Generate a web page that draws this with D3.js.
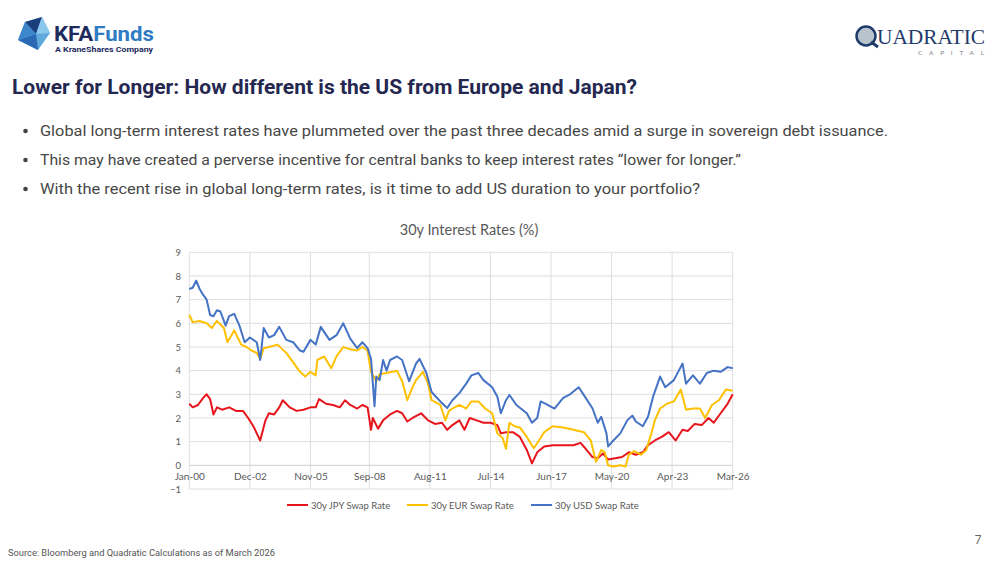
<!DOCTYPE html>
<html>
<head>
<meta charset="utf-8">
<script src="https://cdn.jsdelivr.net/npm/d3@7"></script>
<style>
  body { margin: 0; background: #fff; }
  svg { display: block; }
</style>
</head>
<body>
<div id="slide"></div>
<script>
// 30y swap rates (month, %)
var jpyRate = [
  ["2000-01",2.6],["2000-03",2.45],["2000-06",2.55],["2000-09",2.85],["2000-11",3.0],["2001-01",2.8],
  ["2001-03",2.15],["2001-05",2.45],["2001-08",2.35],["2001-12",2.45],["2002-04",2.3],["2002-08",2.3],
  ["2002-11",2.0],["2003-02",1.65],["2003-05",1.2],["2003-06",1.05],["2003-09",1.9],["2003-11",2.2],
  ["2004-02",2.15],["2004-05",2.45],["2004-07",2.75],["2004-11",2.45],["2005-03",2.3],["2005-07",2.35],
  ["2005-11",2.45],["2006-02",2.45],["2006-04",2.8],["2006-08",2.6],["2006-12",2.55],["2007-04",2.45],
  ["2007-07",2.75],["2007-10",2.55],["2008-02",2.4],["2008-05",2.55],["2008-08",2.45],["2008-10",1.5],
  ["2008-11",2.0],["2009-02",1.55],["2009-05",1.9],["2009-09",2.15],["2010-01",2.3],["2010-04",2.2],
  ["2010-07",1.85],["2010-10",2.0],["2011-03",2.2],["2011-07",1.9],["2011-11",1.75],["2012-03",1.8],
  ["2012-06",1.5],["2012-09",1.7],["2013-01",1.9],["2013-04",1.5],["2013-07",2.0],["2013-11",1.9],
  ["2014-03",1.8],["2014-07",1.8],["2014-11",1.7],["2015-01",1.35],["2015-04",1.4],["2015-08",1.4],
  ["2015-12",1.2],["2016-04",0.65],["2016-07",0.08],["2016-10",0.55],["2017-02",0.8],["2017-07",0.85],
  ["2018-01",0.85],["2018-07",0.85],["2018-11",0.95],["2019-02",0.7],["2019-06",0.35],["2019-09",0.3],
  ["2019-12",0.5],["2020-03",0.25],["2020-07",0.3],["2020-11",0.35],["2021-03",0.55],["2021-07",0.45],
  ["2021-11",0.55],["2022-02",0.85],["2022-06",1.05],["2022-10",1.2],["2023-02",1.4],["2023-06",1.05],
  ["2023-10",1.5],["2024-01",1.45],["2024-05",1.75],["2024-09",1.7],["2025-01",2.0],["2025-04",1.8],
  ["2025-08",2.2],["2025-12",2.6],["2026-03",3.0]
];

var eurRate = [
  ["2000-01",6.35],["2000-03",6.05],["2000-07",6.1],["2000-11",6.0],["2001-02",5.8],["2001-05",6.1],
  ["2001-09",5.8],["2001-11",5.2],["2002-03",5.7],["2002-07",5.1],["2002-10",5.0],["2003-01",4.85],
  ["2003-04",4.75],["2003-06",4.5],["2003-08",4.95],["2003-11",5.0],["2004-04",5.1],["2004-09",4.75],
  ["2005-01",4.35],["2005-03",4.15],["2005-05",3.95],["2005-08",3.75],["2005-11",3.95],["2006-02",3.8],
  ["2006-03",4.45],["2006-07",4.6],["2006-11",4.1],["2007-02",4.6],["2007-06",5.0],["2007-10",4.9],
  ["2008-02",4.85],["2008-05",5.0],["2008-08",4.85],["2008-10",3.95],["2009-01",3.55],["2009-03",3.85],
  ["2009-07",3.9],["2010-01",4.0],["2010-04",3.55],["2010-07",2.75],["2010-10",3.3],["2010-12",3.6],
  ["2011-04",3.95],["2011-07",3.45],["2011-09",2.75],["2012-02",2.55],["2012-05",1.9],["2012-07",2.3],
  ["2012-09",2.4],["2013-01",2.55],["2013-05",2.4],["2013-08",2.7],["2013-12",2.7],["2014-04",2.4],
  ["2014-08",2.2],["2014-11",1.35],["2015-02",1.15],["2015-04",0.7],["2015-06",1.8],["2015-09",1.65],
  ["2015-12",1.6],["2016-04",1.2],["2016-08",0.72],["2016-11",1.05],["2017-02",1.4],["2017-07",1.65],
  ["2018-01",1.6],["2018-07",1.5],["2019-01",1.4],["2019-05",1.05],["2019-08",0.15],["2019-11",0.65],
  ["2020-01",0.55],["2020-03",0.0],["2020-06",-0.05],["2020-10",0.0],["2021-01",-0.05],["2021-03",0.45],
  ["2021-06",0.6],["2021-10",0.45],["2022-01",0.65],["2022-04",1.35],["2022-06",1.9],["2022-09",2.4],
  ["2023-01",2.6],["2023-05",2.7],["2023-09",3.2],["2023-12",2.35],["2024-04",2.4],["2024-08",2.4],
  ["2024-11",2.0],["2025-03",2.55],["2025-07",2.75],["2025-11",3.2],["2026-03",3.15]
];

var usdRate = [
  ["2000-01",7.45],["2000-03",7.5],["2000-05",7.8],["2000-07",7.45],["2000-09",7.2],["2000-11",7.0],
  ["2001-01",6.35],["2001-03",6.3],["2001-05",6.55],["2001-07",6.5],["2001-10",5.9],["2001-12",6.3],
  ["2002-03",6.4],["2002-06",5.9],["2002-09",5.2],["2002-12",5.4],["2003-04",5.2],["2003-06",4.45],
  ["2003-08",5.8],["2003-11",5.4],["2004-02",5.5],["2004-05",5.85],["2004-09",5.3],["2005-01",5.2],
  ["2005-05",4.85],["2005-07",4.8],["2005-11",5.3],["2006-02",5.1],["2006-05",5.85],["2006-10",5.3],
  ["2007-02",5.5],["2007-06",6.0],["2007-10",5.35],["2008-02",4.95],["2008-05",5.2],["2008-08",4.95],
  ["2008-10",4.5],["2008-12",2.5],["2009-01",3.75],["2009-03",3.6],["2009-05",4.45],["2009-07",4.0],
  ["2009-09",4.45],["2010-01",4.6],["2010-04",4.45],["2010-08",3.55],["2010-12",4.3],["2011-02",4.5],
  ["2011-06",3.9],["2011-09",3.1],["2012-02",2.7],["2012-06",2.42],["2012-09",2.75],["2013-01",3.05],
  ["2013-05",3.45],["2013-08",3.8],["2013-12",3.9],["2014-03",3.6],["2014-08",3.3],["2014-11",2.9],
  ["2015-01",2.2],["2015-04",2.75],["2015-06",2.97],["2015-10",2.55],["2016-04",2.2],["2016-07",1.8],
  ["2016-10",2.0],["2016-12",2.7],["2017-03",2.6],["2017-08",2.4],["2018-01",2.85],["2018-05",3.0],
  ["2018-10",3.3],["2019-02",2.85],["2019-06",2.4],["2019-09",1.8],["2019-11",2.05],["2020-02",1.35],
  ["2020-03",0.8],["2020-06",1.05],["2020-10",1.35],["2021-02",1.9],["2021-05",2.1],["2021-07",1.85],
  ["2021-11",1.65],["2022-02",2.05],["2022-05",2.9],["2022-09",3.75],["2022-12",3.3],["2023-05",3.6],
  ["2023-10",4.3],["2023-12",3.45],["2024-04",3.8],["2024-08",3.45],["2024-12",3.9],["2025-04",4.0],
  ["2025-08",3.95],["2025-12",4.15],["2026-03",4.1]
];

var seriesNames = ["30y JPY Swap Rate", "30y EUR Swap Rate", "30y USD Swap Rate"];
var seriesColors = ["#e8141c", "#ffc000", "#4472c4"];
var xTickDates = ["2000-01","2002-12","2005-11","2008-09","2011-08","2014-07","2017-06","2020-05","2023-04","2026-03"];
var yTicks = [-1,0,1,2,3,4,5,6,7,8,9];

var bullets = [
  "Global long-term interest rates have plummeted over the past three decades amid a surge in sovereign debt issuance.",
  "This may have created a perverse incentive for central banks to keep interest rates \u201clower for longer.\u201d",
  "With the recent rise in global long-term rates, is it time to add US duration to your portfolio?"
];
var bulletWidths = [848, 701, 660];

var parseMonth = d3.timeParse("%Y-%m");
var fmtTick = d3.timeFormat("%b-%y");

var W = 1000, H = 563;
var svg = d3.select("#slide").append("svg")
  .attr("width", W).attr("height", H)
  .style("font-family", "Lato, sans-serif");

// ---- header logos ----
var kfa = svg.append("g");
kfa.append("polygon").attr("points", "25,22 42,17 50,33 38,50 18,40").attr("fill", "#5fa8dc");
kfa.append("polygon").attr("points", "25,22 42,17 36,34").attr("fill", "#1c3f7c");
kfa.append("polygon").attr("points", "42,17 50,33 36,34").attr("fill", "#8cc8ee");
kfa.append("polygon").attr("points", "18,40 36,34 38,50").attr("fill", "#2b68b5");
kfa.append("polygon").attr("points", "25,22 18,40 36,34").attr("fill", "#3d86cc");
kfa.append("text").attr("x", 54).attr("y", 41)
  .attr("font-family", "Roboto, sans-serif").attr("font-size", 20).attr("font-weight", 700)
  .attr("textLength", 100).attr("lengthAdjust", "spacingAndGlyphs")
  .html('<tspan fill="#1c2a5e">KFA</tspan><tspan fill="#2f7cc4">Funds</tspan>');
kfa.append("text").attr("x", 55).attr("y", 52)
  .attr("font-family", "Roboto, sans-serif").attr("font-size", 7.5).attr("font-weight", 700)
  .attr("fill", "#1c2a5e").attr("textLength", 98).attr("lengthAdjust", "spacingAndGlyphs")
  .text("A KraneShares Company");

var quad = svg.append("g");
quad.append("circle").attr("cx", 866).attr("cy", 36).attr("r", 9.5)
  .attr("fill", "#b9c3cc").attr("stroke", "#1f3b6b").attr("stroke-width", 2.5);
quad.append("path").attr("d", "M871,42 L878,47").attr("stroke", "#1f3b6b").attr("stroke-width", 3);
quad.append("text").attr("x", 877).attr("y", 44)
  .attr("font-family", "'Liberation Serif', serif").attr("font-size", 21)
  .attr("fill", "#1f3b6b").attr("textLength", 108).attr("lengthAdjust", "spacingAndGlyphs")
  .text("UADRATIC");
quad.append("text").attr("x", 918).attr("y", 55)
  .attr("font-size", 6.5).attr("fill", "#7d8590")
  .attr("textLength", 66).attr("lengthAdjust", "spacing")
  .text("CAPITAL");

// ---- title and bullets ----
svg.append("text").attr("x", 12).attr("y", 94)
  .attr("font-family", "Roboto, sans-serif").attr("font-size", 20).attr("font-weight", 700)
  .attr("fill", "#24274f").attr("textLength", 625).attr("lengthAdjust", "spacingAndGlyphs")
  .text("Lower for Longer: How different is the US from Europe and Japan?");

bullets.forEach(function(t, i) {
  var by = 136 + i * 29;
  svg.append("circle").attr("cx", 25.5).attr("cy", by - 5).attr("r", 2.3).attr("fill", "#444");
  svg.append("text").attr("x", 40).attr("y", by)
    .attr("font-family", "Roboto, sans-serif").attr("font-size", 15)
    .attr("fill", "#474747").attr("textLength", bulletWidths[i]).attr("lengthAdjust", "spacingAndGlyphs")
    .text(t);
});

// ---- chart ----
var x = d3.scaleTime()
  .domain([parseMonth("2000-01"), parseMonth("2026-03")])
  .range([189.3, 732.7]);
var y = d3.scaleLinear().domain([-1, 9]).range([489, 252.3]);

var chart = svg.append("g");

chart.append("text").attr("x", 469).attr("y", 235).attr("text-anchor", "middle")
  .attr("font-size", 14.5).attr("fill", "#595959").text("30y Interest Rates (%)");

// horizontal grid
chart.append("g").selectAll("line").data(yTicks).enter().append("line")
  .attr("x1", x.range()[0]).attr("x2", x.range()[1])
  .attr("y1", function(d) { return y(d); }).attr("y2", function(d) { return y(d); })
  .attr("stroke", function(d) { return d === 0 ? "#cfcfcf" : "#dedede"; }).attr("stroke-width", 1);

// vertical grid
chart.append("g").selectAll("line").data(xTickDates).enter().append("line")
  .attr("x1", function(d) { return x(parseMonth(d)); }).attr("x2", function(d) { return x(parseMonth(d)); })
  .attr("y1", y(9)).attr("y2", y(-1))
  .attr("stroke", "#dedede").attr("stroke-width", 1);

// y axis labels
var yAxis = d3.axisLeft(y).tickValues(yTicks).tickSize(0).tickPadding(0).tickFormat(d3.format("d"));
chart.append("g").attr("transform", "translate(181,0)").call(yAxis)
  .call(function(g) { g.select(".domain").remove(); })
  .selectAll("text").attr("font-family", "Lato, sans-serif").attr("font-size", 9.5).attr("fill", "#595959");

// x axis labels, at the zero line
var xAxis = d3.axisBottom(x).tickValues(xTickDates.map(parseMonth)).tickSize(0).tickPadding(8).tickFormat(fmtTick);
chart.append("g").attr("transform", "translate(0," + y(0) + ")").call(xAxis)
  .call(function(g) { g.select(".domain").remove(); })
  .selectAll("text").attr("font-family", "Lato, sans-serif").attr("font-size", 10).attr("fill", "#595959");

var line = d3.line()
  .x(function(d) { return x(parseMonth(d[0])); })
  .y(function(d) { return y(d[1]); });

[jpyRate, eurRate, usdRate].forEach(function(s, i) {
  chart.append("path").datum(s)
    .attr("d", line).attr("fill", "none")
    .attr("stroke", seriesColors[i]).attr("stroke-width", 2).attr("stroke-linejoin", "round");
});

// legend
var legendX = [287, 407, 531];
var legend = chart.append("g").selectAll("g").data(seriesNames).enter().append("g")
  .attr("transform", function(d, i) { return "translate(" + legendX[i] + ",505)"; });
legend.append("line").attr("x1", 0).attr("x2", 21).attr("y1", 0).attr("y2", 0)
  .attr("stroke", function(d, i) { return seriesColors[i]; }).attr("stroke-width", 2);
legend.append("text").attr("x", 24).attr("y", 3.5)
  .attr("font-size", 9.5).attr("fill", "#595959").text(function(d) { return d; });

// ---- footer ----
svg.append("text").attr("x", 8).attr("y", 556)
  .attr("font-family", "Roboto, sans-serif").attr("font-size", 9).attr("fill", "#555")
  .attr("textLength", 267).attr("lengthAdjust", "spacingAndGlyphs")
  .text("Source: Bloomberg and Quadratic Calculations as of March 2026");
svg.append("text").attr("x", 978).attr("y", 544).attr("text-anchor", "middle")
  .attr("font-family", "Roboto, sans-serif").attr("font-size", 12).attr("fill", "#666").text("7");
</script>
</body>
</html>
